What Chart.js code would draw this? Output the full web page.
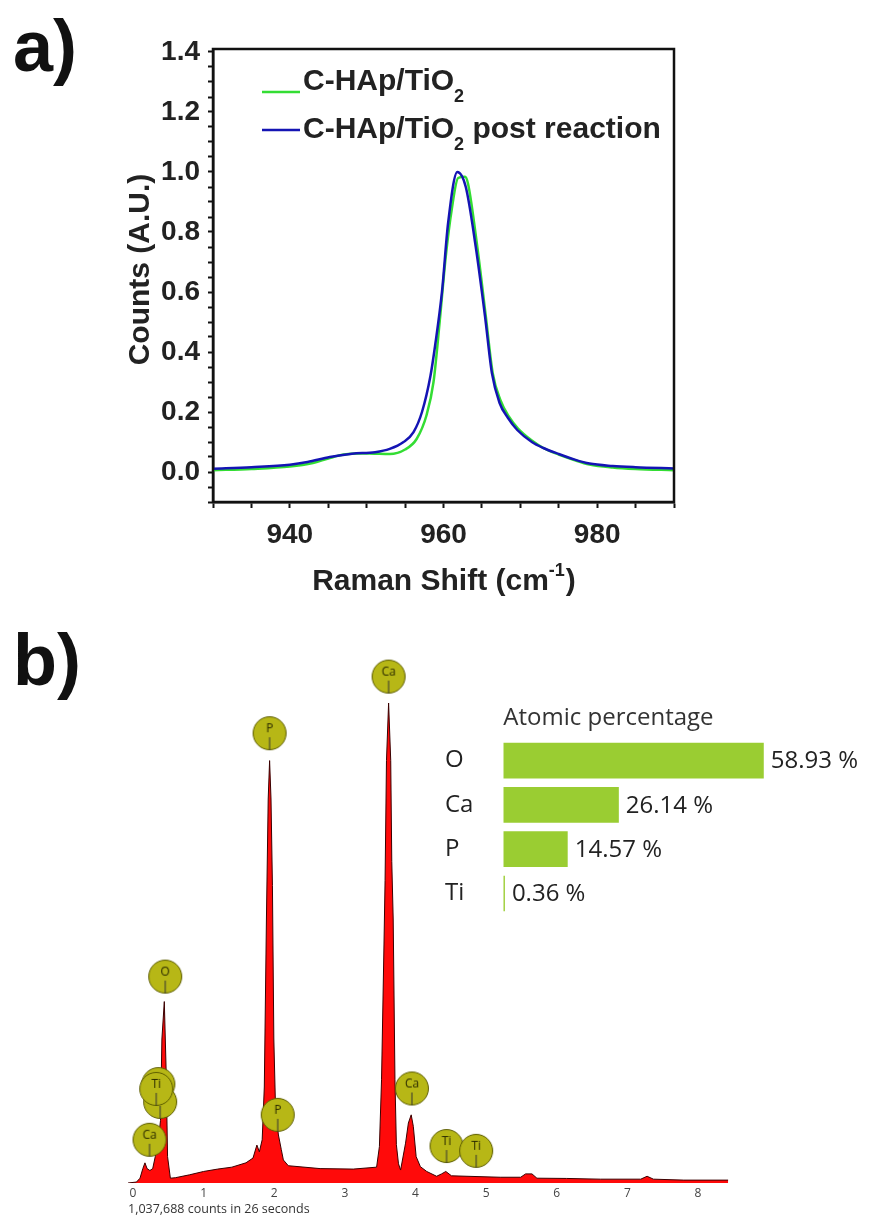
<!DOCTYPE html>
<html>
<head>
<meta charset="utf-8">
<script src="https://cdn.jsdelivr.net/npm/chart.js@4.4.0/dist/chart.umd.min.js"></script>
<style>
body { margin: 0; background: #fff; }
#page { position: relative; width: 872px; height: 1217px; overflow: hidden; background: #fff; }
#page canvas { position: absolute; }
.panel { position: absolute; font: bold 72px "Liberation Sans", Arial, sans-serif; line-height: 72px; color: #111; }
#countsNote { position: absolute; left: 128px; top: 1200px; font: 12.5px "Open Sans", sans-serif; color: #333; white-space: nowrap; }
</style>
</head>
<body>
<div id="page">
	<div class="panel" style="left:13px; top:10px;">a)</div>
	<div class="panel" style="left:13px; top:624px;">b)</div>
	<canvas id="raman" width="872" height="620" style="left:0; top:0;"></canvas>
	<canvas id="eds" width="872" height="597" style="left:0; top:620px;"></canvas>
	<canvas id="atomic" width="472" height="240" style="left:400px; top:690px;"></canvas>
	<div id="countsNote">1,037,688 counts in 26 seconds</div>
</div>
<script>
// a) Raman
var ramanShiftFresh = [930, 935, 940, 943, 945, 947, 949, 951, 953, 955, 956.5, 957.8, 958.7, 959.5, 960.3, 961.1, 961.9, 962.8, 963.2, 964.4, 965.5, 966.4, 967.4, 968.5, 969.7, 971.5, 973, 975, 977, 979, 982, 985, 990];
var countsFresh = [0.006, 0.010, 0.018, 0.030, 0.045, 0.058, 0.062, 0.061, 0.060, 0.075, 0.11, 0.19, 0.30, 0.50, 0.72, 0.88, 0.98, 0.984, 0.96, 0.75, 0.52, 0.33, 0.24, 0.185, 0.145, 0.105, 0.08, 0.058, 0.04, 0.025, 0.015, 0.01, 0.006];

var ramanShiftPost = [930, 935, 940, 942.3, 945.2, 948.1, 951.1, 953, 954.8, 956.1, 957.2, 958.3, 958.9, 959.8, 960.6, 961.8, 962.9, 964.2, 965.4, 966.3, 967.3, 968.4, 969.6, 971.5, 973, 975, 977, 979, 982, 985, 990];
var countsPost = [0.011, 0.016, 0.024, 0.033, 0.050, 0.061, 0.066, 0.077, 0.100, 0.133, 0.20, 0.32, 0.42, 0.60, 0.83, 1.0, 0.95, 0.75, 0.52, 0.33, 0.23, 0.18, 0.14, 0.10, 0.08, 0.06, 0.042, 0.028, 0.02, 0.016, 0.012];

var ramanXTickLabels = ["940", "960", "980"];
var ramanYTickLabels = ["0.0", "0.2", "0.4", "0.6", "0.8", "1.0", "1.2", "1.4"];

// b) EDS spectrum (energy keV, counts in arbitrary units)
var edsEnergy = [-0.07, 0.05, 0.10, 0.14, 0.17, 0.20, 0.24, 0.28, 0.316, 0.36, 0.39, 0.41, 0.444, 0.47, 0.49, 0.53, 0.6, 0.8, 1.0, 1.2, 1.4, 1.6, 1.7, 1.755, 1.79, 1.83, 1.86, 1.89, 1.915, 1.935, 1.955, 1.975, 1.995, 2.02, 2.06, 2.1, 2.13, 2.2, 2.65, 3.12, 3.45, 3.49, 3.52, 3.555, 3.57, 3.59, 3.62, 3.65, 3.665, 3.685, 3.71, 3.73, 3.76, 3.79, 3.86, 3.9, 3.94, 3.97, 4.01, 4.07, 4.16, 4.3, 4.37, 4.43, 4.51, 4.73, 5.2, 5.49, 5.56, 5.65, 5.72, 6.14, 6.62, 7.19, 7.28, 7.37, 7.8, 8.43];
var edsCounts = [0, 0.2, 1.0, 3.0, 4.2, 3.0, 2.6, 3.0, 5.5, 9, 13, 30, 37.8, 23.5, 5.5, 1.0, 1.1, 1.7, 2.4, 2.9, 3.3, 4.2, 5.2, 7.9, 6.5, 9.0, 20, 55, 80, 88, 80, 62, 30, 15, 10, 7, 4.8, 3.6, 3.0, 2.9, 3.3, 7.6, 21.5, 50, 63, 88, 100, 88, 67, 55, 21.5, 8, 4, 2.7, 8.3, 12.5, 14.2, 11.8, 5.5, 3.4, 2.4, 1.4, 1.9, 2.4, 1.5, 1.4, 1.2, 1.2, 1.9, 1.9, 1.0, 0.95, 0.8, 0.8, 1.4, 0.8, 0.6, 0.6];
var edsTickLabels = ["0", "1", "2", "3", "4", "5", "6", "7", "8"];

// line markers, drawn in this order (last one on top)
var edsMarkerLabels = ["Ca", "P", "O", "Ti", "Ti", "Ti", "Ca", "P", "Ca", "Ti", "Ti"];
var edsMarkerEnergy = [3.62, 1.935, 0.457, 0.36, 0.385, 0.33, 0.235, 2.05, 3.95, 4.44, 4.86];
var edsMarkerLevel = [105.5, 93.7, 43.0, 20.6, 16.9, 19.6, 9.0, 14.2, 19.7, 7.7, 6.7];

var atomicElements = ["O", "Ca", "P", "Ti"];
var atomicPercent = [58.93, 26.14, 14.57, 0.36];
var atomicTitle = "Atomic percentage";

var ARIAL = '"Liberation Sans", Arial, sans-serif';
var SEGOE = '"Open Sans", "Noto Sans", sans-serif';

function toPoints(xs, ys) {
	var out = [];
	for(var i = 0; i < xs.length; i++) {
		out.push({ x: xs[i], y: ys[i] });
	}
	return out;
}

// ---- a) ----

var ramanDecor = {
	id: "ramanDecor",
	afterDraw: function(chart) {
		var ctx = chart.ctx;
		var a = chart.chartArea;
		ctx.save();

		ctx.strokeStyle = "#111";
		ctx.lineWidth = 2.5;
		ctx.strokeRect(a.left, a.top, a.right - a.left, a.bottom - a.top);

		ctx.fillStyle = "#222";

		// y title
		ctx.save();
		ctx.font = "bold 30px " + ARIAL;
		ctx.textAlign = "center";
		ctx.textBaseline = "middle";
		ctx.translate(141, (a.top + a.bottom) / 2 - 6);
		ctx.rotate(-Math.PI / 2);
		ctx.fillText("Counts (A.U.)", 0, 0);
		ctx.restore();

		// x title with superscript
		ctx.textAlign = "left";
		ctx.textBaseline = "alphabetic";
		var big = "bold 30px " + ARIAL;
		var small = "bold 18px " + ARIAL;
		ctx.font = big;
		var w1 = ctx.measureText("Raman Shift (cm").width;
		var w3 = ctx.measureText(")").width;
		ctx.font = small;
		var w2 = ctx.measureText("-1").width;
		var x0 = (a.left + a.right) / 2 - (w1 + w2 + w3) / 2;
		var base = 590;
		ctx.font = big;
		ctx.fillText("Raman Shift (cm", x0, base);
		ctx.font = small;
		ctx.fillText("-1", x0 + w1, base - 14);
		ctx.font = big;
		ctx.fillText(")", x0 + w1 + w2 + 1, base);

		// legend
		var entries = [
			{ color: "#33dd33", lineY: 92, base: 90, rest: "" },
			{ color: "#1414b4", lineY: 130, base: 138, rest: " post reaction" }
		];
		for(var i = 0; i < entries.length; i++) {
			var e = entries[i];
			ctx.strokeStyle = e.color;
			ctx.lineWidth = 2.5;
			ctx.beginPath();
			ctx.moveTo(a.left + 49, e.lineY);
			ctx.lineTo(a.left + 87, e.lineY);
			ctx.stroke();

			var tx = a.left + 90;
			ctx.font = "bold 30px " + ARIAL;
			ctx.fillText("C-HAp/TiO", tx, e.base);
			tx += ctx.measureText("C-HAp/TiO").width;
			ctx.font = "bold 18px " + ARIAL;
			ctx.fillText("2", tx, e.base + 12);
			tx += ctx.measureText("2").width;
			if(e.rest) {
				ctx.font = "bold 30px " + ARIAL;
				ctx.fillText(e.rest, tx, e.base);
			}
		}
		ctx.restore();
	}
};

new Chart(document.getElementById("raman").getContext("2d"), {
	type: "scatter",
	data: {
		datasets: [
			{
				label: "C-HAp/TiO2 post reaction",
				data: toPoints(ramanShiftPost, countsPost),
				showLine: true,
				borderColor: "#1414b4",
				borderWidth: 2.5,
				pointRadius: 0,
				cubicInterpolationMode: "monotone",
				order: 0
			},
			{
				label: "C-HAp/TiO2",
				data: toPoints(ramanShiftFresh, countsFresh),
				showLine: true,
				borderColor: "#33dd33",
				borderWidth: 2.5,
				pointRadius: 0,
				cubicInterpolationMode: "monotone",
				order: 1
			}
		]
	},
	options: {
		responsive: false,
		animation: false,
		devicePixelRatio: 1,
		layout: { padding: { left: 0, top: 49, right: 198, bottom: 0 } },
		plugins: { legend: { display: false }, tooltip: { enabled: false } },
		scales: {
			x: {
				type: "linear",
				min: 930,
				max: 990,
				afterBuildTicks: function(scale) {
					var t = [];
					for(var v = 930; v <= 990; v += 5) t.push({ value: v });
					scale.ticks = t;
				},
				afterFit: function(scale) { scale.height = 118; },
				grid: { drawOnChartArea: false, tickLength: 6, tickWidth: 2, tickColor: "#111" },
				border: { color: "#111", width: 2.5 },
				ticks: {
					color: "#222",
					font: { family: ARIAL, size: 28, weight: "bold" },
					padding: 10,
					maxRotation: 0,
					autoSkip: false,
					callback: function(value) {
						var s = String(value);
						return ramanXTickLabels.indexOf(s) >= 0 ? s : "";
					}
				}
			},
			y: {
				min: -0.1,
				max: 1.41,
				afterBuildTicks: function(scale) {
					var t = [];
					for(var i = -2; i <= 28; i++) t.push({ value: i * 0.05 });
					scale.ticks = t;
				},
				afterFit: function(scale) { scale.width = 213; },
				grid: { drawOnChartArea: false, tickLength: 5, tickWidth: 2, tickColor: "#111" },
				border: { color: "#111", width: 2.5 },
				ticks: {
					color: "#222",
					font: { family: ARIAL, size: 28, weight: "bold" },
					padding: 8,
					autoSkip: false,
					callback: function(value) {
						var idx = Math.round(value / 0.2);
						if(idx >= 0 && idx < ramanYTickLabels.length && Math.abs(value - idx * 0.2) < 1e-6) {
							return ramanYTickLabels[idx];
						}
						return "";
					}
				}
			}
		}
	},
	plugins: [ramanDecor]
});

// ---- b) spectrum ----

function makeMarker(label) {
	var c = document.createElement("canvas");
	c.width = 36;
	c.height = 36;
	var g = c.getContext("2d");
	g.beginPath();
	g.arc(18, 18, 16.5, 0, Math.PI * 2);
	g.fillStyle = "#b7b716";
	g.fill();
	g.lineWidth = 1;
	g.strokeStyle = "#5b5b00";
	g.stroke();
	g.fillStyle = "#2b2b00";
	g.font = "12px " + SEGOE;
	g.textAlign = "center";
	g.textBaseline = "middle";
	g.fillText(label, 18, 14);
	g.beginPath();
	g.moveTo(18, 22);
	g.lineTo(18, 34.5);
	g.strokeStyle = "#333";
	g.stroke();
	return c;
}

var markerImages = edsMarkerLabels.map(makeMarker);

new Chart(document.getElementById("eds").getContext("2d"), {
	type: "line",
	data: {
		datasets: [
			{
				type: "scatter",
				label: "lines",
				data: toPoints(edsMarkerEnergy, edsMarkerLevel),
				pointStyle: markerImages,
				clip: false,
				order: 0
			},
			{
				type: "line",
				label: "spectrum",
				data: toPoints(edsEnergy, edsCounts),
				fill: "origin",
				backgroundColor: "#ff0a0a",
				borderColor: "#3a0000",
				borderWidth: 1,
				pointRadius: 0,
				tension: 0,
				order: 1
			}
		]
	},
	options: {
		responsive: false,
		animation: false,
		devicePixelRatio: 1,
		layout: { padding: { left: 128, top: 35, right: 143.7, bottom: 0 } },
		plugins: { legend: { display: false }, tooltip: { enabled: false } },
		scales: {
			x: {
				type: "linear",
				min: -0.07,
				max: 8.43,
				afterBuildTicks: function(scale) {
					scale.ticks = edsTickLabels.map(function(s) { return { value: Number(s) }; });
				},
				afterFit: function(scale) { scale.height = 34; },
				grid: { display: false, drawTicks: false },
				border: { display: false },
				ticks: {
					color: "#444",
					font: { family: SEGOE, size: 12 },
					padding: 3,
					maxRotation: 0,
					autoSkip: false,
					callback: function(value) { return edsTickLabels[Math.round(value)]; }
				}
			},
			y: { display: false, min: 0, max: 110 }
		}
	}
});

// ---- b) atomic percentage ----

var atomicDecor = {
	id: "atomicDecor",
	afterDatasetsDraw: function(chart) {
		var ctx = chart.ctx;
		var a = chart.chartArea;
		ctx.save();
		ctx.fillStyle = "#333";
		ctx.font = "24px " + SEGOE;
		ctx.textAlign = "left";
		ctx.textBaseline = "alphabetic";
		ctx.fillText(atomicTitle, a.left, 35);

		ctx.fillStyle = "#222";
		ctx.textBaseline = "middle";
		var bars = chart.getDatasetMeta(0).data;
		for(var i = 0; i < bars.length; i++) {
			ctx.fillText(atomicPercent[i].toFixed(2) + " %", bars[i].x + 7, bars[i].y + 1);
		}
		ctx.restore();
	}
};

new Chart(document.getElementById("atomic").getContext("2d"), {
	type: "bar",
	data: {
		labels: atomicElements,
		datasets: [{
			data: atomicPercent,
			backgroundColor: "#9acd32",
			categoryPercentage: 1,
			barPercentage: 0.805
		}]
	},
	options: {
		indexAxis: "y",
		responsive: false,
		animation: false,
		devicePixelRatio: 1,
		layout: { padding: { left: 45, top: 48.5, right: 15.1, bottom: 7.5 } },
		plugins: { legend: { display: false }, tooltip: { enabled: false } },
		scales: {
			x: { display: false, min: 0, max: 80 },
			y: {
				afterFit: function(scale) { scale.width = 58.3; },
				grid: { display: false },
				border: { display: false },
				ticks: {
					crossAlign: "far",
					color: "#222",
					padding: 0,
					font: { family: SEGOE, size: 24 }
				}
			}
		}
	},
	plugins: [atomicDecor]
});
</script>
</body>
</html>
